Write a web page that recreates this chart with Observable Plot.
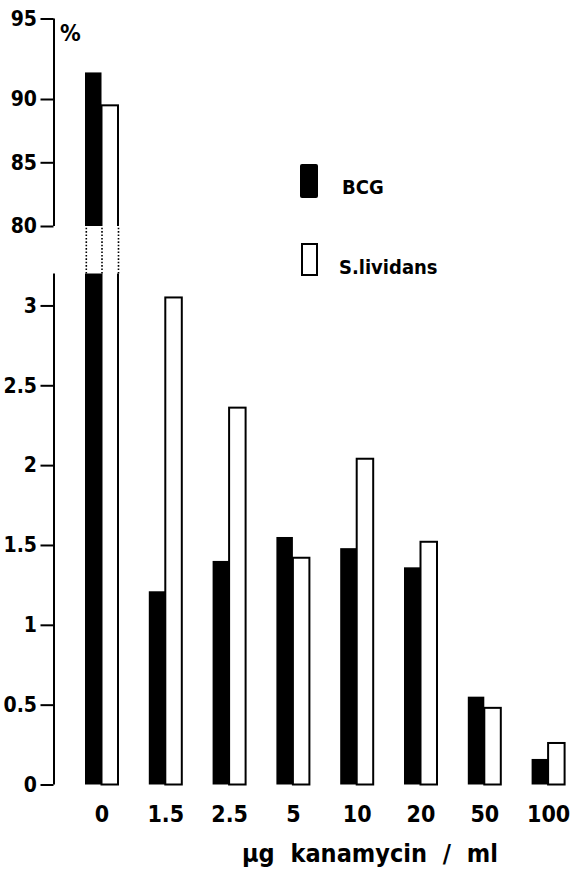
<!DOCTYPE html>
<html>
<head>
<meta charset="utf-8">
<script src="https://cdn.jsdelivr.net/npm/d3@7"></script>
<script src="https://cdn.jsdelivr.net/npm/@observablehq/plot@0.6"></script>
<style>
  html, body { margin: 0; padding: 0; background: #fff; }
  #wrap { position: relative; width: 572px; height: 871px; overflow: hidden;
          font-family: 'DejaVu Sans Condensed', 'DejaVu Sans', sans-serif; font-stretch: condensed; font-weight: bold; color: #000; }
  #wrap svg { position: absolute; left: 0; top: 0; }
  .lbl { position: absolute; white-space: nowrap; line-height: 1; }
  .sw { position: absolute; box-sizing: border-box; }
</style>
</head>
<body>
<div id="wrap">
  <div class="lbl" style="left:60px; top:22px; font-size:23px;">%</div>
  <div class="sw" style="left:300px; top:164px; width:18px; height:34px; background:#000; border-radius:2px;"></div>
  <div class="lbl" style="left:342px; top:177px; font-size:20px;" id="leg1"></div>
  <div class="sw" style="left:301px; top:243px; width:17px; height:33px; border:2px solid #000;"></div>
  <div class="lbl" style="left:339px; top:257px; font-size:20px;" id="leg2"></div>
  <div class="lbl" style="left:0; width:740px; text-align:center; top:841px; font-size:25px; word-spacing:8px;" id="xtitle"></div>
</div>
<script>
// ---- data ----
const concentrations = ["0", "1.5", "2.5", "5", "10", "20", "50", "100"];
const bcg = [91.65, 1.21, 1.40, 1.55, 1.48, 1.36, 0.55, 0.16];
const lividans = [89.5, 3.05, 2.36, 1.42, 2.04, 1.52, 0.48, 0.26];
const seriesNames = ["BCG", "S.lividans"];
const yTicks = [0, 0.5, 1, 1.5, 2, 2.5, 3, 80, 85, 90, 95];
const breakLow = 3.2;
const breakHigh = 80;
const yTop = 95;
const xTitle = "µg kanamycin / ml";
const yUnit = "%";

// ---- layout ----
const W = 572, H = 871;
const marginLeft = 53.5;
const yDomain = [0, breakLow, breakHigh, 85, 90, yTop];
const yRange = [784.5, 273.5, 226, 162.3, 99, 18.5];
const xRange = [77.6, 572];
const padIn = 0.4828, padOut = 0.116;

const xb = d3.scaleBand(concentrations, xRange).paddingInner(padIn).paddingOuter(padOut);
const bw = xb.bandwidth();
const half = bw / 2;
const axisDx = marginLeft - (xb(concentrations[0]) + half);

document.getElementById("leg1").textContent = seriesNames[0];
document.getElementById("leg2").textContent = seriesNames[1];
document.getElementById("xtitle").textContent = xTitle;

const rows = concentrations.map((c, i) => ({conc: c, bcg: bcg[i], liv: lividans[i]}));
const axisSegments = [{lo: 0, hi: breakLow}, {lo: breakHigh, hi: yTop}];

const breakRules = [-half + 0.8, 0, half].map(dx =>
  Plot.ruleX([concentrations[0]], {x: d => d, y1: () => breakLow, y2: () => breakHigh, dx,
    stroke: "black", strokeWidth: 1.6, strokeDasharray: "1.6,1.8"}));

const chart = Plot.plot({
  width: W,
  height: H,
  marginLeft,
  marginRight: 0,
  marginTop: 18.5,
  marginBottom: H - 784.5,
  style: {fontFamily: "'DejaVu Sans Condensed', 'DejaVu Sans', sans-serif", fontWeight: "bold", fontStretch: "condensed", color: "black", background: "white"},
  x: {type: "band", domain: concentrations, range: xRange, paddingInner: padIn, paddingOuter: padOut, round: false},
  y: {type: "linear", domain: yDomain, range: yRange},
  marks: [
    Plot.barY(rows, {x: "conc", y: "liv", fill: "white", stroke: "black", strokeWidth: 2, insetLeft: half}),
    Plot.barY(rows, {x: "conc", y: "bcg", fill: "black", insetRight: half}),
    Plot.barY([concentrations[0]], {x: d => d, y1: () => breakLow, y2: () => breakHigh, fill: "white", insetLeft: -3, insetRight: -3}),
    ...breakRules,
    Plot.ruleX(axisSegments, {x: () => concentrations[0], y1: "lo", y2: "hi", dx: axisDx, stroke: "black", strokeWidth: 2}),
    Plot.axisY({ticks: yTicks, tickSize: 13, tickPadding: 4, fontSize: 21, strokeWidth: 2, label: null, tickFormat: d => String(d)}),
    Plot.axisX({tickSize: 0, tickPadding: 21, fontSize: 23, label: null})
  ]
});
document.getElementById("wrap").prepend(chart);
</script>
</body>
</html>
